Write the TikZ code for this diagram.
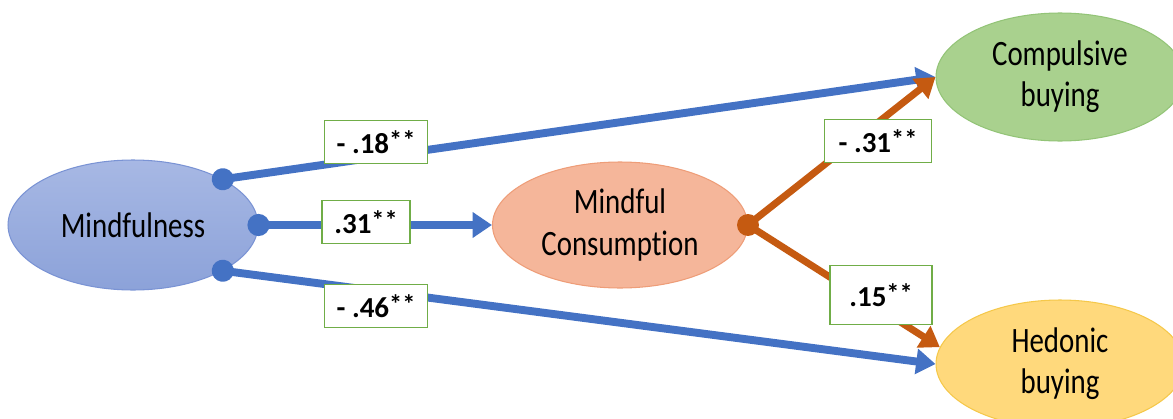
\documentclass[tikz,border=0pt]{standalone}
\usepackage{fontspec}
\setmainfont{Carlito}
\newfontfamily\tallfont[FakeStretch=0.81,Ligatures=NoCommon]{Carlito}
\usetikzlibrary{positioning,shapes.geometric,arrows.meta}
\definecolor{pathblue}{HTML}{4472C4}
\definecolor{pathorange}{HTML}{C55A11}
\definecolor{boxgreen}{HTML}{70AD47}
\definecolor{mindtop}{HTML}{A7B8E4}
\definecolor{mindbot}{HTML}{8CA2D9}
\definecolor{mindline}{HTML}{7A93D4}
\definecolor{consfill}{HTML}{F5B69A}
\definecolor{consline}{HTML}{EE9D78}
\definecolor{compfill}{HTML}{A9D18E}
\definecolor{compline}{HTML}{93C477}
\definecolor{hedfill}{HTML}{FFD97C}
\definecolor{hedline}{HTML}{F5C84A}
\newcommand{\stars}{\raisebox{2.5pt}{\fontsize{15}{15}\selectfont **}}

\begin{document}
\begin{tikzpicture}[
  x=0.02cm, y=-0.02cm,
  construct/.style={ellipse, draw, line width=0.6pt, inner sep=0pt, align=center,
      minimum width=4.96cm, minimum height=2.56cm, font=\tallfont\fontsize{20.3}{23.5}\selectfont},
  coef/.style={draw=boxgreen, line width=1pt, fill=white, inner sep=0pt,
      minimum height=0.86cm, font=\fontsize{16.5}{16.5}\selectfont\bfseries},
  effect/.style={{Circle[length=12.5pt]}-{Triangle[length=11pt,width=14pt]}, line width=4.5pt,
      pathblue, shorten <=-6.25pt},
  mediated/.style={-{Triangle[length=11pt,width=14pt]}, line width=4pt, pathorange},
]
\useasboundingbox (0,0) rectangle (1173,419);
\clip (0,0) rectangle (1173,419);

% constructs
\node[construct, top color=mindtop, bottom color=mindbot, draw=mindline, minimum width=5cm, minimum height=2.6cm] (mind) at (133,225) {Mindfulness};
\node[construct, fill=consfill, draw=consline, minimum width=5.1cm, minimum height=2.52cm] (cons) at (620,225) {Mindful\\Consumption};
\node[construct, fill=compfill, draw=compline] (comp) at (1060,77) {Compulsive\\buying};
\node[construct, fill=hedfill, draw=hedline] (hed) at (1060,364) {Hedonic\\buying};

% paths
\draw[effect] (mind.27) -- (comp.west);
\draw[effect] (mind.east) -- (cons.west);
\draw[effect] (mind.-27) -- (hed.west);
\draw[mediated] (cons.east) -- (comp.west);
\draw[mediated] (cons.east) -- (hed.172);
\fill[pathorange] (cons.east) circle (6.25pt);

% coefficients
\node[coef, minimum width=2.06cm] (c18) at (376,142) {- .18\stars};
\node[coef, minimum width=1.76cm] (c31) at (366,222) {.31\stars};
\node[coef, minimum width=2.06cm] (c46) at (376,306) {- .46\stars};
\node[coef, minimum width=2.14cm] (m31) at (878,141) {- .31\stars};
\node[coef, minimum width=2.04cm, minimum height=1.18cm] (m15) at (881,295) {.15\stars};
\end{tikzpicture}
\end{document}
